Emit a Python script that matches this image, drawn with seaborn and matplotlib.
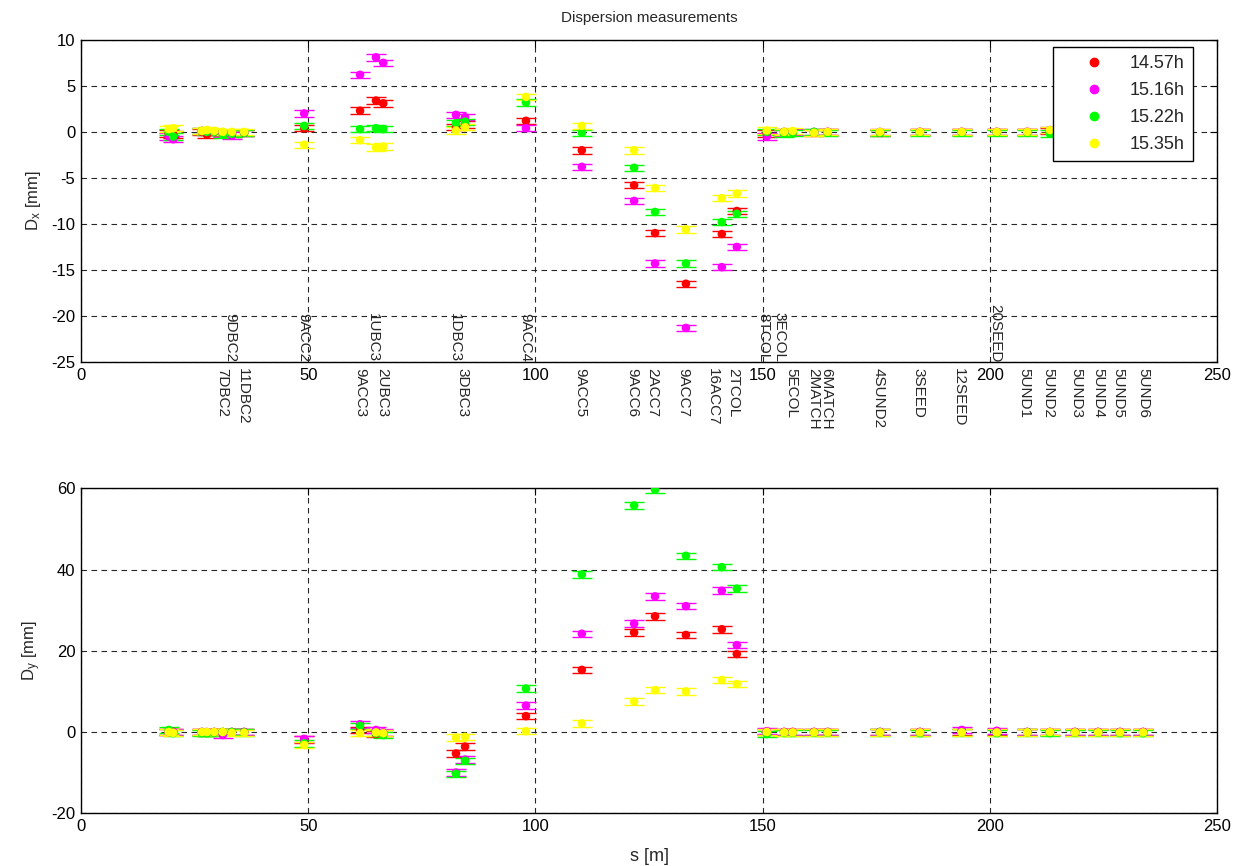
import numpy as np
import pandas as pd
import matplotlib
matplotlib.use('Agg')
import matplotlib.pyplot as plt
from matplotlib.lines import Line2D
import seaborn as sns

# BPM positions along the line [m]
s_bpm = [19.3, 20.3, 26.6, 27.7, 29.3, 31.2, 33.2, 35.9, 49.1, 61.4, 64.9, 66.5,
         82.5, 84.5, 97.9, 110.2, 121.7, 126.3, 133.1, 141.0, 144.3, 150.9,
         154.7, 156.6, 161.3, 164.3, 175.8, 184.6, 193.8, 201.5, 208.2, 213.2,
         218.7, 223.8, 228.6, 233.7]

times = ['14.57h', '15.16h', '15.22h', '15.35h']
colors = ['#ff0000', '#ff00ff', '#00ff00', '#ffff00']

# horizontal dispersion [mm]
dx_1457 = [-0.2, -0.3, 0.0, -0.3, 0.0, -0.1, -0.2, -0.1, 0.4, 2.3, 3.4, 3.1,
           0.5, 0.8, 1.2, -2.0, -5.8, -11.0, -16.5, -11.1, -8.6, -0.2,
           0.0, 0.0, -0.1, 0.0, -0.1, 0.0, 0.0, 0.0, 0.0, 0.1, 0.0, 0.0, 0.0, 0.0]
dx_1516 = [-0.5, -0.8, 0.1, 0.0, 0.0, -0.2, -0.4, -0.1, 2.0, 6.2, 8.1, 7.5,
           1.85, 1.6, 0.4, -3.8, -7.5, -14.3, -21.3, -14.7, -12.5, -0.5,
           -0.1, 0.0, 0.0, 0.0, 0.0, 0.0, 0.0, 0.0, 0.0, 0.2, 0.0, 0.0, 0.0, 0.0]
dx_1522 = [0.0, -0.5, 0.1, 0.0, 0.0, -0.3, -0.2, -0.1, 0.65, 0.3, 0.4, 0.3,
           0.95, 1.1, 3.2, -0.1, -3.9, -8.7, -14.3, -9.8, -8.9, 0.0,
           -0.2, -0.1, 0.0, -0.1, -0.1, -0.1, -0.1, -0.1, -0.1, -0.2, 0.0, 0.0, 0.0, 0.0]
dx_1535 = [0.3, 0.4, 0.1, 0.2, 0.1, 0.0, 0.0, 0.0, -1.4, -0.9, -1.7, -1.6,
           0.15, 0.5, 3.8, 0.65, -2.0, -6.1, -10.6, -7.2, -6.7, 0.15,
           0.0, 0.1, -0.1, 0.0, 0.0, 0.0, 0.0, 0.0, 0.0, 0.2, 0.0, 0.0, 0.0, 0.0]

# vertical dispersion [mm]
dy_1457 = [0.0, 0.0, 0.0, -0.2, 0.0, 0.0, 0.0, 0.0, -1.8, 0.5, -0.5, -0.3,
           -5.3, -3.6, 3.9, 15.3, 24.5, 28.5, 23.9, 25.3, 19.2, 0.0,
           0.0, 0.0, 0.0, 0.0, 0.0, 0.0, 0.0, 0.0, 0.0, 0.0, 0.0, 0.0, 0.0, 0.0]
dy_1516 = [0.0, 0.0, 0.0, 0.0, 0.0, -0.75, 0.0, 0.0, -1.7, 1.9, 0.5, -0.1,
           -10.0, -6.8, 6.5, 24.2, 26.7, 33.4, 31.0, 34.8, 21.4, 0.2,
           0.0, 0.0, 0.0, 0.0, 0.0, 0.0, 0.5, 0.3, 0.0, 0.0, 0.0, 0.0, 0.0, 0.0]
dy_1522 = [0.5, -0.3, -0.3, -0.3, -0.2, 0.0, 0.0, -0.1, -2.8, 1.5, -0.3, -0.75,
           -10.3, -7.1, 10.7, 38.8, 55.8, 59.7, 43.4, 40.6, 35.3, -0.5,
           -0.2, -0.2, -0.2, -0.2, -0.1, -0.3, -0.1, -0.3, -0.1, -0.3, -0.2, -0.2, -0.3, -0.3]
dy_1535 = [0.0, -0.2, 0.0, 0.0, 0.0, 0.0, -0.2, -0.2, -3.2, -0.3, -0.1, -0.3,
           -1.4, -1.2, 0.2, 2.1, 7.5, 10.3, 10.0, 12.8, 11.8, 0.0,
           -0.1, -0.1, -0.1, -0.1, -0.1, -0.1, -0.1, -0.1, -0.1, 0.0, -0.1, -0.1, -0.1, -0.1]

dx_err = 0.35
dy_err = 0.8

# element names drawn along the s axis of the upper plot
upper_names = ['9DBC2', '9ACC2', '1UBC3', '1DBC3', '9ACC4', '8TCOL', '3ECOL', '20SEED']
upper_s = [32.8, 48.8, 64.2, 82.3, 97.7, 150.1, 153.6, 201.1]
lower_names = ['7DBC2', '11DBC2', '9ACC3', '2UBC3', '3DBC3', '9ACC5', '9ACC6', '2ACC7',
               '9ACC7', '16ACC7', '2TCOL', '5ECOL', '2MATCH', '6MATCH', '4SUND2', '3SEED',
               '12SEED', '5UND1', '5UND2', '5UND3', '5UND4', '5UND5', '5UND6']
lower_s = [31.0, 35.6, 61.4, 66.2, 84.0, 109.8, 121.2, 125.6,
           132.5, 139.1, 143.5, 156.4, 161.1, 163.9, 175.4, 184.2,
           193.2, 207.5, 212.8, 218.9, 223.8, 228.2, 233.7]


def make_frame(series):
    rows = []
    for t, vals in zip(times, series):
        for s, v in zip(s_bpm, vals):
            rows.append({'s': s, 'D': v, 'time': t})
    return pd.DataFrame(rows)


df_x = make_frame([dx_1457, dx_1516, dx_1522, dx_1535])
df_y = make_frame([dy_1457, dy_1516, dy_1522, dy_1535])

sns.set_theme(style='white')
plt.rcParams['font.family'] = ['Liberation Sans', 'DejaVu Sans']
plt.rcParams['mathtext.fontset'] = 'custom'
plt.rcParams['mathtext.rm'] = 'Liberation Sans'
plt.rcParams['mathtext.it'] = 'Liberation Sans'
plt.rcParams['axes.unicode_minus'] = False

fig = plt.figure(figsize=(12.39, 8.66), dpi=100)
ax1 = fig.add_axes([0.0654, 0.582, 0.917, 0.372])
ax2 = fig.add_axes([0.0654, 0.061, 0.917, 0.375])


def draw_panel(ax, df, err, ylim, yticks):
    for t, c in zip(times, colors):
        sub = df[df['time'] == t]
        ax.errorbar(sub['s'], sub['D'], yerr=err, fmt='none', ecolor=c,
                    elinewidth=1.0, capsize=7.5, capthick=1.0, zorder=3)
    sns.scatterplot(data=df, x='s', y='D', hue='time', palette=colors,
                    hue_order=times, s=38, linewidth=0, legend=False,
                    ax=ax, zorder=4)
    ax.set_xlim(0, 250)
    ax.set_ylim(*ylim)
    ax.set_xticks([0, 50, 100, 150, 200, 250])
    ax.set_yticks(yticks)
    ax.grid(True, color='0.15', linestyle=(0, (5, 4)), linewidth=0.8)
    ax.set_axisbelow(True)
    ax.tick_params(direction='in', length=5, width=0.8, top=True, right=True,
                   labelsize=12, colors='black', pad=4)
    for sp in ax.spines.values():
        sp.set_color('black')
        sp.set_linewidth(1.0)
    ax.set_xlabel('')


draw_panel(ax1, df_x, dx_err, (-25, 10), [-25, -20, -15, -10, -5, 0, 5, 10])
draw_panel(ax2, df_y, dy_err, (-20, 60), [-20, 0, 20, 40, 60])

ax1.set_title('Dispersion measurements', fontsize=11, pad=13)
ax1.set_ylabel('D$_x$ [mm]', fontsize=12, labelpad=6)
ax2.set_ylabel('D$_y$ [mm]', fontsize=12, labelpad=6)
ax2.set_xlabel('s [m]', fontsize=13, labelpad=10)

for name, s in zip(upper_names, upper_s):
    ax1.text(s, -25, name, rotation=-90, ha='center', va='bottom',
             fontsize=11, zorder=5)
for name, s in zip(lower_names, lower_s):
    ax1.annotate(name, xy=(s, -25), xytext=(0, -4), textcoords='offset points',
                 rotation=-90, ha='center', va='top', fontsize=11,
                 annotation_clip=False)

handles = [Line2D([], [], linestyle='none', marker='o', markersize=6,
                  markerfacecolor=c, markeredgecolor=c) for c in colors]
leg = ax1.legend(handles, times, loc='upper right', bbox_to_anchor=(0.9789, 0.978),
                 borderaxespad=0, fontsize=13, frameon=True, fancybox=False,
                 framealpha=1, edgecolor='black', borderpad=0.45, labelspacing=0.55,
                 handletextpad=0.2, handlelength=3.6)
leg.get_frame().set_linewidth(1.0)
leg.set_zorder(10)

fig.savefig('out.png', dpi=100)
